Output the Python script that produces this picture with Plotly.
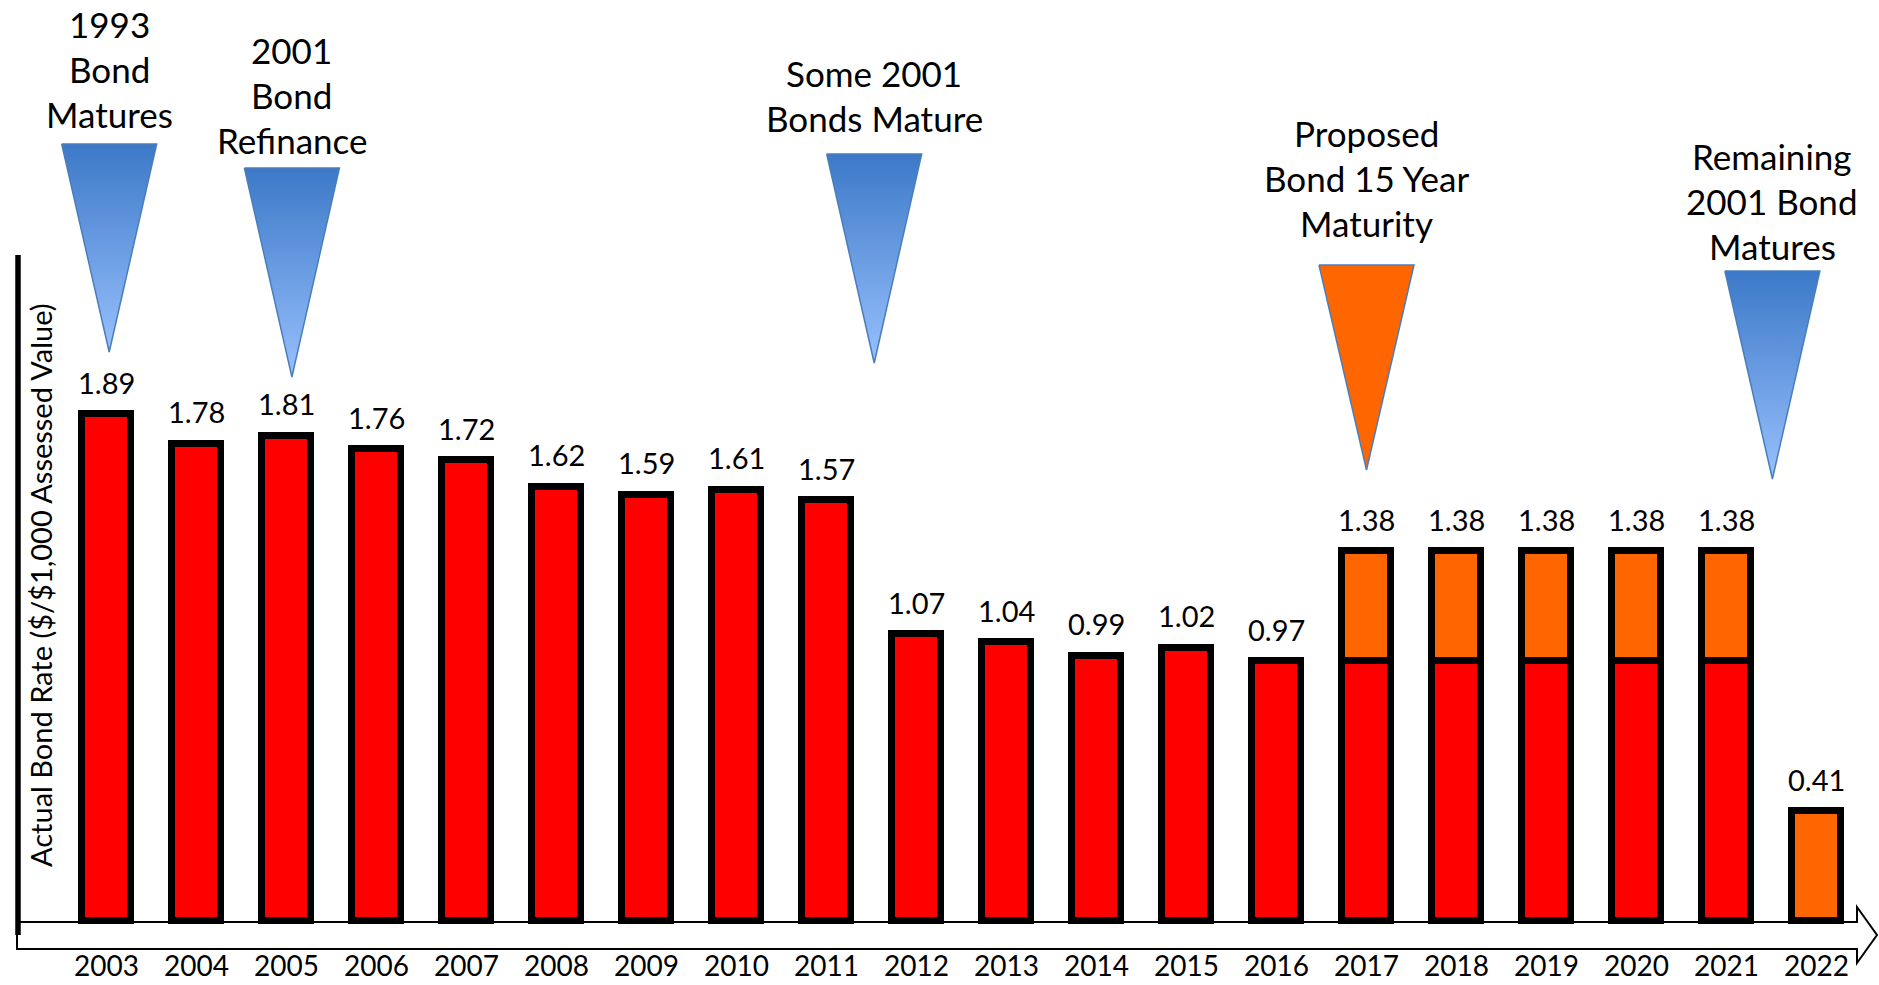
import plotly.graph_objects as go

# ---------------- data ----------------
years = [2003, 2004, 2005, 2006, 2007, 2008, 2009, 2010, 2011, 2012,
         2013, 2014, 2015, 2016, 2017, 2018, 2019, 2020, 2021, 2022]
existing_rate = [1.89, 1.78, 1.81, 1.76, 1.72, 1.62, 1.59, 1.61, 1.57, 1.07,
                 1.04, 0.99, 1.02, 0.97, 0.97, 0.97, 0.97, 0.97, 0.97, None]
proposed_rate = [None, None, None, None, None, None, None, None, None, None,
                 None, None, None, None, 0.41, 0.41, 0.41, 0.41, 0.41, 0.41]
total_rate = [1.89, 1.78, 1.81, 1.76, 1.72, 1.62, 1.59, 1.61, 1.57, 1.07,
              1.04, 0.99, 1.02, 0.97, 1.38, 1.38, 1.38, 1.38, 1.38, 0.41]
tick_labels = ["2003", "2004", "2005", "2006", "2007", "2008", "2009", "2010",
               "2011", "2012", "2013", "2014", "2015", "2016", "2017", "2018",
               "2019", "2020", "2021", "2022"]
y_title = "Actual Bond Rate ($/$1,000 Assessed Value)"

# call-out markers: x in years, vertical geometry in page pixels
callouts = [
    dict(lines=["1993", "Bond", "Matures"], x=2003.03, top=144, tip=352,
         text_y=24, kind="blue"),
    dict(lines=["2001", "Bond", "Refinance"], x=2005.06, top=168, tip=377,
         text_y=50, kind="blue"),
    dict(lines=["Some 2001", "Bonds Mature"], x=2011.53, top=154, tip=363,
         text_y=73, kind="blue"),
    dict(lines=["Proposed", "Bond 15 Year", "Maturity"], x=2017.0, top=265,
         tip=470, text_y=133, kind="orange"),
    dict(lines=["Remaining", "2001 Bond", "Matures"], x=2021.51, top=271,
         tip=479, text_y=156, kind="blue"),
]

W, H = 1879, 985
FONT = "Lato"
RED = "#ff0000"
ORANGE = "#ff6600"
PX_PER_UNIT = 268.0
BASE_PX = 921.0          # page y of value 0
FIRST_X_PX = 106.5       # page x of first year
STEP_PX = 90.0           # px per year

fig = go.Figure()

bar_line = dict(color="black", width=7)
fig.add_trace(go.Bar(x=years, y=existing_rate, width=0.55,
                     marker=dict(color=RED, line=bar_line),
                     hoverinfo="skip", showlegend=False))
fig.add_trace(go.Bar(x=years, y=proposed_rate, width=0.55,
                     marker=dict(color=ORANGE, line=bar_line),
                     hoverinfo="skip", showlegend=False))

annotations = []
# value labels
for yr, v in zip(years, total_rate):
    annotations.append(dict(x=yr, y=v, xref="x", yref="y", text=f"{v:.2f}",
                            showarrow=False, yanchor="middle", yshift=32,
                            font=dict(family=FONT, size=29, color="black")))

# triangles with gradient and their captions
half_w = 47.5 / STEP_PX
for c in callouts:
    xs = [c["x"] - half_w, c["x"] + half_w, c["x"], c["x"] - half_w]
    ys = [c["top"], c["top"], c["tip"], c["top"]]
    if c["kind"] == "blue":
        fig.add_trace(go.Scatter(
            x=xs, y=ys, xaxis="x", yaxis="y2", mode="lines", fill="toself",
            line=dict(color="#4a7ebb", width=1.5),
            fillgradient=dict(type="vertical", start=c["top"], stop=c["tip"],
                              colorscale=[[0, "#3c79c8"], [1, "#98c0fd"]]),
            hoverinfo="skip", showlegend=False))
    else:
        fig.add_trace(go.Scatter(
            x=xs, y=ys, xaxis="x", yaxis="y2", mode="lines", fill="toself",
            fillcolor=ORANGE, line=dict(color="#4a7ebb", width=1.5),
            hoverinfo="skip", showlegend=False))
    for i, line in enumerate(c["lines"]):
        annotations.append(dict(x=c["x"], y=c["text_y"] + 45 * i, xref="x",
                                yref="y2", text=line, showarrow=False,
                                xanchor="center", yanchor="middle",
                                font=dict(family=FONT, size=35, color="black")))

# y-axis title
annotations.append(dict(x=40 / W, y=1 - 585 / H, xref="paper", yref="paper",
                        text=y_title, textangle=-90, showarrow=False,
                        xanchor="center", yanchor="middle",
                        font=dict(family=FONT, size=29, color="black")))

shapes = [
    # timeline arrow band
    dict(type="path", xref="paper", yref="y2", layer="below",
         path=(f"M {17/W},922 L {1857/W},922 L {1857/W},907 L {1877/W},935 "
               f"L {1857/W},963 L {1857/W},949 L {17/W},949 Z"),
         fillcolor="white", line=dict(color="black", width=2)),
    # vertical axis bar
    dict(type="line", xref="paper", yref="y2", layer="below",
         x0=18 / W, x1=18 / W, y0=255, y1=935,
         line=dict(color="black", width=5.5)),
]

x_min = years[0] - FIRST_X_PX / STEP_PX
x_max = x_min + W / STEP_PX

fig.update_layout(
    width=W, height=H,
    margin=dict(l=0, r=0, t=0, b=0, pad=0),
    paper_bgcolor="white", plot_bgcolor="white",
    barmode="stack", bargap=0,
    xaxis=dict(range=[x_min, x_max], tickvals=years, ticktext=tick_labels,
               ticklabelposition="inside", ticks="", showgrid=False,
               zeroline=False, showline=False, automargin=False,
               tickfont=dict(family=FONT, size=28, color="black")),
    yaxis=dict(range=[-(H - BASE_PX) / PX_PER_UNIT, BASE_PX / PX_PER_UNIT],
               visible=False, showgrid=False, zeroline=False, automargin=False),
    yaxis2=dict(range=[H, 0], overlaying="y", anchor="x", visible=False,
                showgrid=False, zeroline=False, automargin=False),
    annotations=annotations,
    shapes=shapes,
    showlegend=False,
)

fig.write_html("out.html")
